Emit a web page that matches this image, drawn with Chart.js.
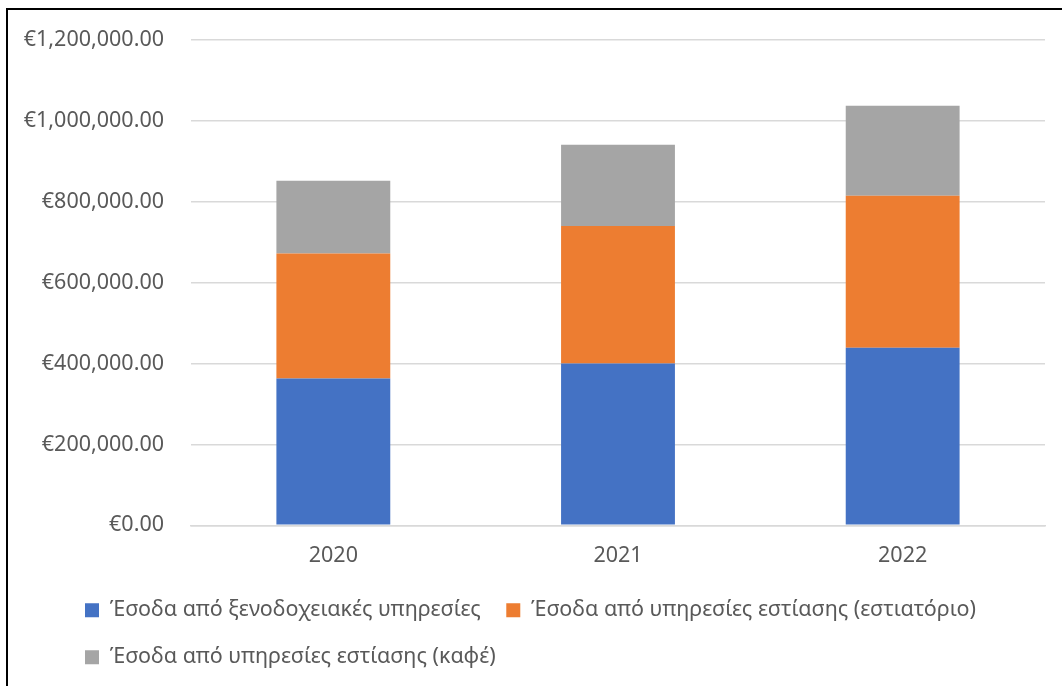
<!DOCTYPE html>
<html>
<head>
<meta charset="utf-8">
<script src="https://cdn.jsdelivr.net/npm/chart.js@4"></script>
<style>
  html, body { margin: 0; padding: 0; overflow: hidden; background: #fff; }
  #wrap { position: relative; width: 1062px; height: 686px; overflow: hidden; }
  #frame { position: absolute; left: 6px; top: 8px; width: 1100px; height: 800px;
           border-left: 2px solid #000; border-top: 2px solid #000; pointer-events: none; }
  canvas { position: absolute; left: 0; top: 0; }
</style>
</head>
<body>
<div id="wrap">
  <canvas id="revenueChart" width="1062" height="678"></canvas>
  <div id="frame"></div>
</div>
<script>
var years = ['2020', '2021', '2022'];
var hotelRevenue = [363000, 400000, 439000];
var restaurantRevenue = [309000, 340000, 376000];
var cafeRevenue = [180000, 201000, 222000];
var seriesNames = [
  'Έσοδα από ξενοδοχειακές υπηρεσίες',
  'Έσοδα από υπηρεσίες εστίασης (εστιατόριο)',
  'Έσοδα από υπηρεσίες εστίασης (καφέ)'
];
var yMax = 1200000;
var yStep = 200000;

var textColor = '#595959';
var gridColor = '#d9d9d9';
var fontFamily = '"Noto Sans", sans-serif';

function euro(v){
  return '€' + Number(v).toLocaleString('en-US', {minimumFractionDigits: 2, maximumFractionDigits: 2});
}

// push the legend rows to the right, like the original sheet
var legendShift = {
  id: 'legendShift',
  afterLayout: function(chart){
    chart.legend.left += 39.5;
    chart.legend.right += 39.5;
  }
};

var ctx = document.getElementById('revenueChart');
var chart = new Chart(ctx, {
  type: 'bar',
  data: {
    labels: years,
    datasets: [
      { label: seriesNames[0], data: hotelRevenue, backgroundColor: '#4472c4' },
      { label: seriesNames[1], data: restaurantRevenue, backgroundColor: '#ed7d31' },
      { label: seriesNames[2], data: cafeRevenue, backgroundColor: '#a5a5a5' }
    ]
  },
  options: {
    responsive: false,
    animation: false,
    layout: { padding: { top: 38, right: 17, left: 20, bottom: 0 } },
    datasets: { bar: { categoryPercentage: 1.0, barPercentage: 0.4 } },
    plugins: {
      tooltip: { enabled: false },
      legend: {
        position: 'bottom',
        align: 'start',
        labels: {
          color: textColor,
          font: { family: fontFamily, size: 21.5 },
          boxWidth: 14,
          boxHeight: 14,
          padding: 25.5
        }
      }
    },
    scales: {
      x: {
        stacked: true,
        grid: { display: false, drawTicks: false },
        border: { color: gridColor, width: 1.5 },
        ticks: { color: textColor, padding: 17.8, font: { family: fontFamily, size: 21.5 } },
        afterFit: function(scale){ scale.height = 48.7; }
      },
      y: {
        stacked: true,
        min: 0,
        max: yMax,
        grid: { color: gridColor, lineWidth: 1.5, drawTicks: false },
        border: { display: false },
        ticks: {
          stepSize: yStep,
          color: textColor,
          padding: 27,
          font: { family: fontFamily, size: 21.5 },
          callback: function(v){ return euro(v); }
        },
        afterFit: function(scale){ scale.width = 171; }
      }
    }
  },
  plugins: [legendShift]
});
</script>
</body>
</html>
